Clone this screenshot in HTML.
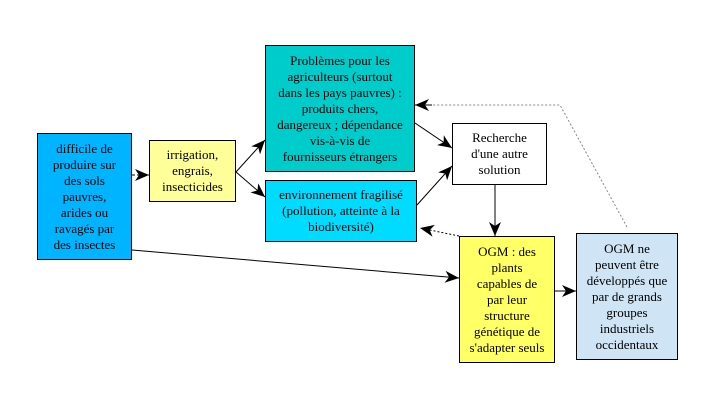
<!DOCTYPE html>
<html><head><meta charset="utf-8"><style>
body{margin:0;width:709px;height:419px;background:#fff;position:relative;overflow:hidden;font-family:"Liberation Serif","Times New Roman","DejaVu Serif",serif;font-size:13px;}
.b{position:absolute;box-sizing:border-box;border:1px solid #000;display:flex;align-items:center;justify-content:center;text-align:center;line-height:16px;color:#000;font-family:"Liberation Serif","Times New Roman",serif;}
svg{position:absolute;left:0;top:0;}
</style></head><body>
<div class="b" style="left:37px;top:133px;width:95px;height:127px;background:#00b4ff;">difficile de<br>produire sur<br>des sols<br>pauvres,<br>arides ou<br>ravagés par<br>des insectes</div>
<div class="b" style="left:149px;top:140px;width:87px;height:62px;background:#ffff99;">irrigation,<br>engrais,<br>insecticides</div>
<div class="b" style="left:265px;top:45px;width:150px;height:127px;background:#00cccc;">Problèmes pour les<br>agriculteurs (surtout<br>dans les pays pauvres) :<br>produits chers,<br>dangereux ; dépendance<br>vis-à-vis de<br>fournisseurs étrangers</div>
<div class="b" style="left:265px;top:180px;width:152px;height:62px;background:#00dcff;">environnement fragilisé<br>(pollution, atteinte à la<br>biodiversité)</div>
<div class="b" style="left:452px;top:123px;width:95px;height:62px;background:#fff;">Recherche<br>d'une autre<br>solution</div>
<div class="b" style="left:459px;top:236px;width:96px;height:127px;background:#ffff66;">OGM : des<br>plants<br>capables de<br>par leur<br>structure<br>génétique de<br>s'adapter seuls</div>
<div class="b" style="left:576px;top:233px;width:102px;height:127px;background:#cfe4f4;">OGM ne<br>peuvent être<br>développés que<br>par de grands<br>groupes<br>industriels<br>occidentaux</div>
<svg width="709" height="419">
<defs><marker id="a" markerWidth="14" markerHeight="12" refX="14" refY="6" orient="auto" markerUnits="userSpaceOnUse"><path d="M0,0 L14,6 L0,12 L4,6 z" fill="#000"/></marker></defs>
<g stroke="#000" stroke-width="1" fill="none">
<line x1="132" y1="175" x2="149" y2="175" stroke-dasharray="3,2" marker-end="url(#a)"/>
<line x1="236" y1="172" x2="265" y2="140" marker-end="url(#a)"/>
<line x1="236" y1="172" x2="265" y2="197" marker-end="url(#a)"/>
<line x1="415" y1="123" x2="452" y2="148" marker-end="url(#a)"/>
<line x1="417" y1="205" x2="452" y2="166" marker-end="url(#a)"/>
<line x1="495" y1="185" x2="495" y2="236" marker-end="url(#a)"/>
<line x1="132" y1="250" x2="459" y2="278" marker-end="url(#a)"/>
<line x1="555" y1="291" x2="576" y2="291" marker-end="url(#a)"/>
<polyline points="627,227 560,105 430,105" stroke="#888" stroke-dasharray="2,2"/>
<line x1="432" y1="105" x2="415" y2="105" marker-end="url(#a)"/>
<line x1="459" y1="236" x2="420" y2="228" stroke-dasharray="2,2" marker-end="url(#a)"/>
</g>
</svg>
</body></html>
